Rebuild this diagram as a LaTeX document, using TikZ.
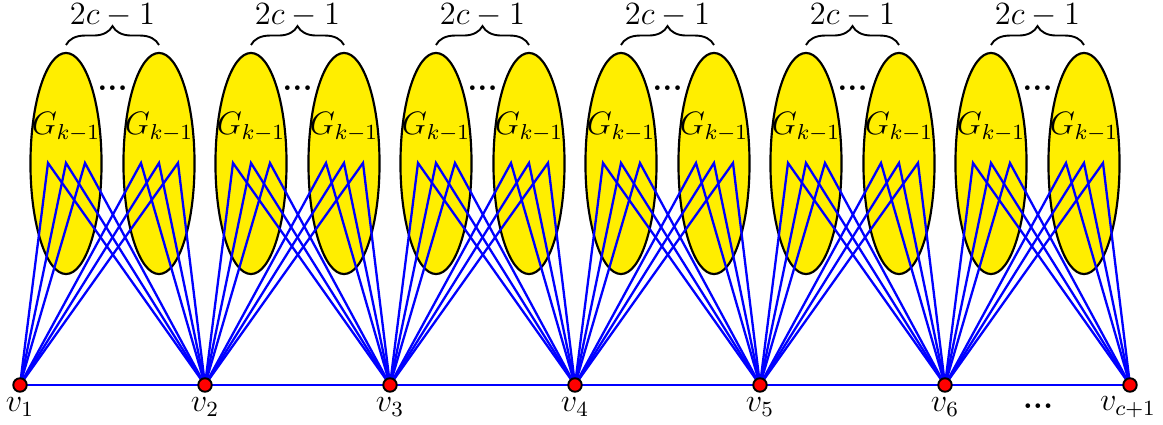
\documentclass[tikz,border=0pt]{standalone}
\usetikzlibrary{shapes.geometric,decorations.pathreplacing}
\definecolor{gyellow}{RGB}{255,238,0}
\tikzset{
  blob/.style={ellipse,draw=black,line width=0.8pt,fill=gyellow,inner sep=0pt,minimum width=26.3pt,minimum height=81.8pt},
  edge/.style={blue,line width=0.85pt},
  vert/.style={circle,draw=black,line width=0.7pt,fill=red,inner sep=0pt,minimum size=5pt},
  vlab/.style={inner sep=0pt},
  dotsty/.style={inner sep=0pt,font=\bfseries},
  bracestyle/.style={decorate,decoration={brace,amplitude=7pt},line width=0.7pt}
}
\begin{document}
\fontsize{12}{14}\selectfont
\begin{tikzpicture}[x=0.37pt,y=-0.37pt]
\useasboundingbox (0,0) rectangle (1163,425);
% ellipses and labels
\foreach \i in {0,...,5}{
  \pgfmathsetmacro{\xv}{20+185*\i}
  \node[blob] (L\i) at (\xv+46,163.5) {};
  \node[blob] (R\i) at (\xv+139,163.5) {};
  \node (GL\i) at (\xv+46,127) {$G_{k-1}$};
  \node (GR\i) at (\xv+139,127) {$G_{k-1}$};
  \node[dotsty] (D\i) at (\xv+92.5,88) {...};
  \coordinate (BA\i) at (\xv+46,45);
  \coordinate (BB\i) at (\xv+139,45);
  \draw[bracestyle] (BA\i) -- (BB\i);
  \node[inner sep=0pt] (T\i) at (\xv+92.5,15.5) {$2c-1$};
  \foreach \j/\o in {1/-18,2/0,3/19}{
    \coordinate (PL\i-\j) at (\xv+46+\o,163);
    \coordinate (PR\i-\j) at (\xv+139+\o,163);
  }
}
% vertices
\foreach \k in {1,...,7}{
  \coordinate (c\k) at (20+185*\k-185,385);
}
\draw[edge] (c1) -- (c7);
\foreach \i [evaluate=\i as \a using int(\i+1), evaluate=\i as \b using int(\i+2)] in {0,...,5}{
  \foreach \j in {1,2,3}{
    \draw[edge] (c\a) -- (PL\i-\j) -- (c\b);
    \draw[edge] (c\a) -- (PR\i-\j) -- (c\b);
  }
}
\foreach \k in {1,...,7}{
  \node[vert] (v\k) at (c\k) {};
}
\foreach \k in {1,...,6}{
  \node[vlab] (lab\k) at (20+185*\k-185,407) {$v_{\k}$};
}
\node[vlab] (lab7) at (1128,407) {$v_{c+1}$};
\node[dotsty] (dd) at (1038,406) {...};
\end{tikzpicture}
\end{document}
